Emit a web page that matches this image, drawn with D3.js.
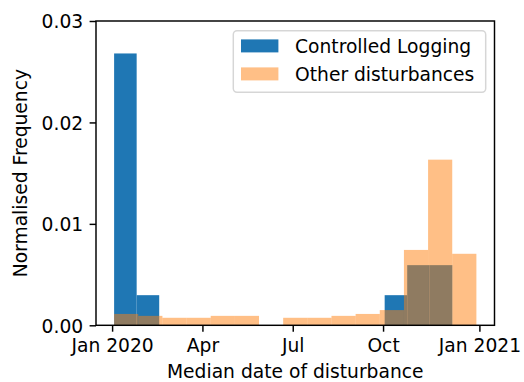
<!DOCTYPE html>
<html>
<head>
<meta charset="utf-8">
<script src="https://cdn.jsdelivr.net/npm/d3@7"></script>
<style>
  html, body { margin: 0; padding: 0; background: #ffffff; }
  svg { display: block; }
  text { font-family: "DejaVu Sans", sans-serif; fill: #000000; }
</style>
</head>
<body>
<script>
// Histogram bins: days since 1 Jan 2020, 15 equal-width bins per series
const loggingBinRange = [2, 339];
const otherBinRange = [2, 363];
const binCount = 15;

// Normalised frequency (density) per bin
const loggingDensity = [0.0268, 0.00297, 0, 0, 0, 0, 0, 0, 0, 0, 0, 0, 0.00297, 0.00593, 0.00593];
const otherDensity = [0.00112, 0.00093, 0.00074, 0.00074, 0.00093, 0.00093, 0, 0.00074, 0.00074,
                      0.00093, 0.00112, 0.00150, 0.00743, 0.01633, 0.00705];

const seriesNames = ["Controlled Logging", "Other disturbances"];

// Axis ticks
const xTickDays = [0, 90, 180, 270, 366];
const xTickLabels = ["Jan 2020", "Apr", "Jul", "Oct", "Jan 2021"];
const yTicks = [0, 0.01, 0.02, 0.03];

const W = 524, H = 382;
const plot = { left: 96, right: 494.5, top: 21, bottom: 325.3 };
const fs = 18.7;
const lw = 1.46;

function makeBins(range, values) {
  const step = (range[1] - range[0]) / binCount;
  return values.map((v, i) => ({ x0: range[0] + i * step, x1: range[0] + (i + 1) * step, v }));
}
const loggingBins = makeBins(loggingBinRange, loggingDensity);
const otherBins = makeBins(otherBinRange, otherDensity);

// x limits padded by 5% of the data span on each side
const lo = Math.min(loggingBinRange[0], otherBinRange[0]);
const hi = Math.max(loggingBinRange[1], otherBinRange[1]);
const pad = (hi - lo) * 0.05;

const x = d3.scaleLinear().domain([lo - pad, hi + pad]).range([plot.left, plot.right]);
const y = d3.scaleLinear().domain([0, 0.03]).range([plot.bottom, plot.top]);

const svg = d3.select("body").append("svg").attr("width", W).attr("height", H);

// bars
function drawBars(bins, color, opacity) {
  svg.append("g").selectAll("rect")
    .data(bins.filter(d => d.v > 0))
    .join("rect")
    .attr("x", d => x(d.x0))
    .attr("width", d => x(d.x1) - x(d.x0))
    .attr("y", d => y(d.v))
    .attr("height", d => y(0) - y(d.v))
    .attr("fill", color)
    .attr("fill-opacity", opacity);
}
drawBars(loggingBins, "#1f77b4", 1);
drawBars(otherBins, "#ff7f0e", 0.5);

// axes
const xAxis = d3.axisBottom(x)
  .tickValues(xTickDays)
  .tickFormat((d, i) => xTickLabels[i])
  .tickSizeInner(6.4).tickSizeOuter(0).tickPadding(6.4);
const yAxis = d3.axisLeft(y)
  .tickValues(yTicks)
  .tickFormat(d3.format(".2f"))
  .tickSizeInner(6.4).tickSizeOuter(0).tickPadding(6.4);

const gx = svg.append("g").attr("transform", `translate(0,${plot.bottom})`).call(xAxis);
const gy = svg.append("g").attr("transform", `translate(${plot.left},0)`).call(yAxis);

[gx, gy].forEach(g => {
  g.select(".domain").remove();
  g.selectAll(".tick line").attr("stroke", "#000").attr("stroke-width", lw);
  g.selectAll(".tick text")
    .style("font-family", "'DejaVu Sans', sans-serif")
    .style("font-size", fs + "px")
    .attr("fill", "#000");
});
gx.selectAll(".tick text").attr("dy", null).attr("y", 6.4 + 6.4 + 14.4);
gy.selectAll(".tick text").attr("dy", null).attr("dominant-baseline", null).attr("y", 6.8);

// spines
svg.append("rect")
  .attr("x", plot.left).attr("y", plot.top)
  .attr("width", plot.right - plot.left).attr("height", plot.bottom - plot.top)
  .attr("fill", "none").attr("stroke", "#000").attr("stroke-width", lw)
  .attr("stroke-linejoin", "miter");

// axis titles
svg.append("text")
  .attr("x", (plot.left + plot.right) / 2).attr("y", 377.5)
  .attr("text-anchor", "middle")
  .style("font-size", fs + "px")
  .text("Median date of disturbance");

svg.append("text")
  .attr("transform", `translate(27,${(plot.top + plot.bottom) / 2}) rotate(-90)`)
  .attr("text-anchor", "middle")
  .style("font-size", fs + "px")
  .text("Normalised Frequency");

// legend
const legend = svg.append("g");
legend.append("rect")
  .attr("x", 233.3).attr("y", 30.7)
  .attr("width", 252.4).attr("height", 61.5)
  .attr("rx", 3.7).attr("ry", 3.7)
  .attr("fill", "#ffffff").attr("fill-opacity", 0.8)
  .attr("stroke", "#cccccc").attr("stroke-opacity", 0.8).attr("stroke-width", 1.46);

const legendColors = [["#1f77b4", 1], ["#ff7f0e", 0.5]];
seriesNames.forEach((name, i) => {
  const cy = 45.8 + i * 28;
  legend.append("rect")
    .attr("x", 241).attr("y", cy - 6.4)
    .attr("width", 37.4).attr("height", 13)
    .attr("fill", legendColors[i][0]).attr("fill-opacity", legendColors[i][1]);
  legend.append("text")
    .attr("x", 295).attr("y", cy + 6.8)
    .style("font-size", fs + "px")
    .text(name);
});
</script>
</body>
</html>
